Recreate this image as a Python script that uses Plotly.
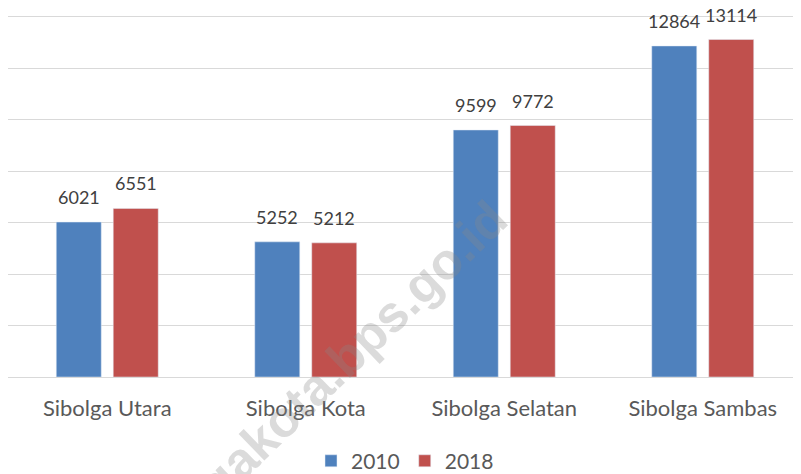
import plotly.graph_objects as go

kecamatan = ['Sibolga Utara', 'Sibolga Kota', 'Sibolga Selatan', 'Sibolga Sambas']
tahun = ['2010', '2018']
penduduk_2010 = [6021, 5252, 9599, 12864]
penduduk_2018 = [6551, 5212, 9772, 13114]

warna = {'2010': '#4f81bd', '2018': '#c0504d'}
font_main = 'Lato, Carlito, Calibri, sans-serif'

fig = go.Figure()
for th, vals in zip(tahun, [penduduk_2010, penduduk_2018]):
    fig.add_trace(go.Bar(
        x=kecamatan,
        y=vals,
        name=th,
        marker=dict(color=warna[th]),
    ))

# label angka di atas batang (digeser ke kiri/kanan sesuai kelompok)
for geser, vals in zip([-28.5, 28.5], [penduduk_2010, penduduk_2018]):
    for kec, v in zip(kecamatan, vals):
        fig.add_annotation(
            x=kec, y=v, xref='x', yref='y',
            text=str(v),
            showarrow=False,
            xshift=geser, yshift=12,
            yanchor='bottom',
            font=dict(family=font_main, size=18, color='#404040'),
        )

# watermark
fig.add_annotation(
    text='<b>sibolgakota.bps.go.id</b>',
    xref='paper', yref='paper',
    x=0.38, y=-0.043,
    xanchor='center', yanchor='middle',
    showarrow=False,
    textangle=-44,
    font=dict(family='Liberation Sans, Arial', size=51, color='rgba(135,135,135,0.3)'),
)

fig.update_layout(
    width=801, height=474,
    margin=dict(l=0, r=7, t=1, b=105),
    paper_bgcolor='white',
    plot_bgcolor='white',
    barmode='group',
    bargap=0.426,
    bargroupgap=0.21,
    showlegend=True,
    legend=dict(
        orientation='h',
        x=0.5, xanchor='center',
        yref='container',
        y=0.044, yanchor='middle',
        font=dict(family=font_main, size=21, color='#595959'),
        itemwidth=30,
    ),
    xaxis=dict(
        automargin=False,
        showgrid=False,
        showline=True,
        linecolor='#d9d9d9',
        linewidth=1,
        ticks='',
        ticklabelstandoff=12,
        tickfont=dict(family=font_main, size=22, color='#595959'),
    ),
    yaxis=dict(
        automargin=False,
        range=[0, 14300],
        tick0=0,
        dtick=2000,
        showgrid=True,
        gridcolor='#d9d9d9',
        gridwidth=1,
        showticklabels=False,
        zeroline=False,
        ticks='',
    ),
)

fig.write_html('out.html')
